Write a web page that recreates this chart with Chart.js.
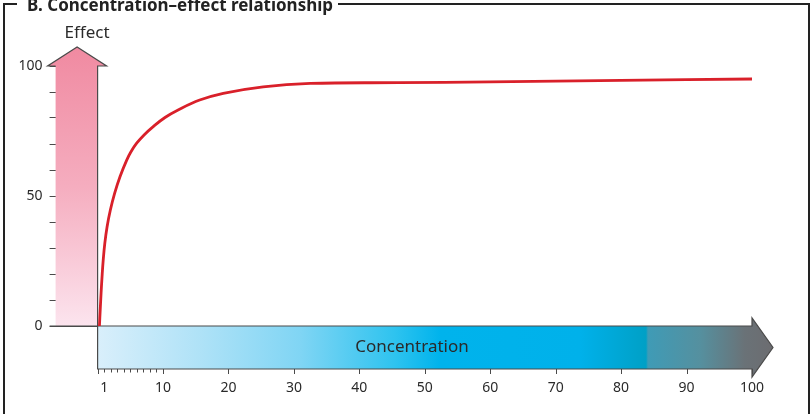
<!DOCTYPE html>
<html>
<head>
<meta charset="utf-8">
<title>Concentration–effect relationship</title>
<script src="https://cdn.jsdelivr.net/npm/chart.js@4/dist/chart.umd.min.js"></script>
<style>
  html, body { margin: 0; padding: 0; background: #fff; }
  #wrap { width: 811px; height: 414px; position: relative; }
</style>
</head>
<body>
<div id="wrap"><canvas id="chart" width="811" height="414"></canvas></div>
<script>
(function () {
  "use strict";

  // concentration (x) and effect (y)
  const CONCENTRATION = [0.28, 0.4, 0.53, 0.68, 0.86, 1.1, 1.45, 1.95, 2.6, 3.42, 4.45, 5.1, 5.97, 7.1, 8.5, 10.3, 12.3, 15.6, 19.2, 25.3, 32.5, 46, 60, 80, 100];
  const EFFECT = [0, 6.2, 12.6, 19, 25.4, 31.8, 38.2, 44.6, 51, 57.4, 63.8, 67.0, 70.3, 73.5, 76.7, 80.2, 83.1, 86.9, 89.5, 92, 93.3, 93.6, 93.9, 94.5, 95];

  const X_TICKS = [0, 1, 2, 3, 4, 5, 6, 7, 8, 9, 10, 20, 30, 40, 50, 60, 70, 80, 90, 100];
  const X_LABELS = { 1: "1", 10: "10", 20: "20", 30: "30", 40: "40", 50: "50", 60: "60", 70: "70", 80: "80", 90: "90", 100: "100" };
  const Y_TICKS = [0, 10, 20, 30, 40, 50, 60, 70, 80, 90, 100];
  const Y_LABELS = { 0: "0", 50: "50", 100: "100" };

  const TITLE = "B. Concentration\u2013effect relationship";
  const X_TITLE = "Concentration";
  const Y_TITLE = "Effect";

  const FONT = "'Noto Sans', 'Open Sans', sans-serif";
  const INK = "#2a2a2a";
  const OUTLINE = "#4a4a4a";
  const CURVE = "#d9202a";

  // frame, title box, the two arrows and the x tick marks
  const decor = {
    id: "decor",
    beforeDatasetsDraw(chart) {
      const ctx = chart.ctx;
      const x = chart.scales.x;
      const y = chart.scales.y;
      const W = chart.width, H = chart.height;
      const left = x.getPixelForValue(0);
      const right = x.getPixelForValue(100);
      const top = y.getPixelForValue(100);
      const base = y.getPixelForValue(0);
      const barBottom = base + 43;

      ctx.save();

      // outer frame with the title set into the top rule
      ctx.strokeStyle = "#222";
      ctx.lineWidth = 2;
      ctx.beginPath();
      ctx.moveTo(4, H);
      ctx.lineTo(4, 4);
      ctx.lineTo(17, 4);
      ctx.moveTo(338, 4);
      ctx.lineTo(W - 2, 4);
      ctx.lineTo(W - 2, H);
      ctx.stroke();

      ctx.fillStyle = "#222";
      ctx.font = "bold 17px " + FONT;
      ctx.textAlign = "left";
      ctx.textBaseline = "alphabetic";
      const tw = ctx.measureText(TITLE).width;
      ctx.save();
      ctx.translate(27, 11);
      ctx.scale(306 / tw, 1);
      ctx.fillText(TITLE, 0, 0);
      ctx.restore();

      // effect arrow (pink, pointing up)
      const bodyL = left - 42;
      const headL = left - 50, headR = left + 9, apexY = top - 19;
      const apexX = (headL + headR) / 2;
      const pink = ctx.createLinearGradient(0, apexY, 0, base);
      pink.addColorStop(0, "#f08aa1");
      pink.addColorStop(0.5, "#f5adbf");
      pink.addColorStop(1, "#fce4ee");
      ctx.fillStyle = pink;
      ctx.beginPath();
      ctx.moveTo(bodyL, base);
      ctx.lineTo(bodyL, top);
      ctx.lineTo(headL, top);
      ctx.lineTo(apexX, apexY);
      ctx.lineTo(headR, top);
      ctx.lineTo(left, top);
      ctx.lineTo(left, base);
      ctx.closePath();
      ctx.fill();

      ctx.strokeStyle = OUTLINE;
      ctx.lineWidth = 1.2;
      ctx.beginPath();
      ctx.moveTo(bodyL, top);
      ctx.lineTo(headL, top);
      ctx.lineTo(apexX, apexY);
      ctx.lineTo(headR, top);
      ctx.lineTo(left, top);
      ctx.lineTo(left, barBottom);
      ctx.moveTo(bodyL - 6, base);
      ctx.lineTo(left, base);
      ctx.stroke();

      ctx.fillStyle = INK;
      ctx.font = "17px " + FONT;
      ctx.textAlign = "center";
      ctx.textBaseline = "middle";
      ctx.fillText(Y_TITLE, apexX + 10, 33);

      // concentration arrow (blue to grey, pointing right)
      const tipX = right + 21;
      const midY = (base + barBottom) / 2;
      const span = tipX - left;
      const at = (px) => Math.min(1, Math.max(0, (px - left) / span));
      const blue = ctx.createLinearGradient(left, 0, tipX, 0);
      blue.addColorStop(0, "#d9effb");
      blue.addColorStop(at(200), "#afe2f7");
      blue.addColorStop(at(300), "#80d5f4");
      blue.addColorStop(at(395), "#2ec3ef");
      blue.addColorStop(at(440), "#00b3ec");
      blue.addColorStop(at(580), "#00b1ea");
      blue.addColorStop(at(646), "#00a0c6");
      blue.addColorStop(at(648), "#3f9bb6");
      blue.addColorStop(at(700), "#55909f");
      blue.addColorStop(at(745), "#6a7277");
      blue.addColorStop(1, "#6c6c70");
      ctx.fillStyle = blue;
      ctx.beginPath();
      ctx.moveTo(left, base);
      ctx.lineTo(right, base);
      ctx.lineTo(right, base - 8);
      ctx.lineTo(tipX, midY);
      ctx.lineTo(right, barBottom + 8);
      ctx.lineTo(right, barBottom);
      ctx.lineTo(left, barBottom);
      ctx.closePath();
      ctx.fill();
      ctx.strokeStyle = OUTLINE;
      ctx.lineWidth = 1.2;
      ctx.stroke();

      ctx.fillStyle = INK;
      ctx.font = "17px " + FONT;
      ctx.fillText(X_TITLE, 412, midY);

      // x tick marks under the arrow, taken from the scale's own ticks
      ctx.strokeStyle = OUTLINE;
      ctx.lineWidth = 1;
      x.ticks.forEach((t) => {
        const px = Math.round(x.getPixelForValue(t.value)) + 0.5;
        const len = t.value % 10 === 0 ? 5 : 3.5;
        ctx.beginPath();
        ctx.moveTo(px, barBottom);
        ctx.lineTo(px, barBottom + len);
        ctx.stroke();
      });

      ctx.restore();
    },
  };

  new Chart(document.getElementById("chart"), {
    type: "line",
    data: {
      datasets: [{
        data: CONCENTRATION.map((c, i) => ({ x: c, y: EFFECT[i] })),
        borderColor: CURVE,
        borderWidth: 2.8,
        pointRadius: 0,
        fill: false,
        tension: 0.4,
      }],
    },
    options: {
      responsive: false,
      animation: false,
      devicePixelRatio: 1,
      layout: { padding: { top: 66, right: 59, bottom: 0, left: 0 } },
      plugins: { legend: { display: false }, tooltip: { enabled: false } },
      scales: {
        x: {
          type: "linear",
          min: 0,
          max: 100,
          afterFit: (s) => { s.height = 88; s.paddingLeft = 0; s.paddingRight = 0; },
          afterBuildTicks: (s) => { s.ticks = X_TICKS.map((v) => ({ value: v })); },
          grid: { display: false, drawTicks: false },
          border: { display: false },
          ticks: {
            autoSkip: false,
            maxRotation: 0,
            padding: 54,
            color: INK,
            font: { family: FONT, size: 14 },
            callback: (v) => X_LABELS[v] || "",
          },
        },
        y: {
          min: 0,
          max: 100,
          afterFit: (s) => { s.width = 97.6; },
          afterBuildTicks: (s) => { s.ticks = Y_TICKS.map((v) => ({ value: v })); },
          grid: { drawOnChartArea: false, tickLength: 48, tickColor: OUTLINE, tickWidth: 1 },
          border: { display: false },
          ticks: {
            padding: 7,
            color: INK,
            font: { family: FONT, size: 14 },
            callback: (v) => Y_LABELS[v] || "",
          },
        },
      },
    },
    plugins: [decor],
  });
})();
</script>
</body>
</html>
